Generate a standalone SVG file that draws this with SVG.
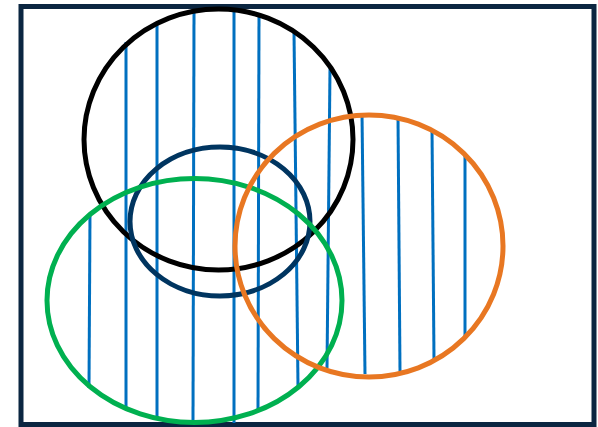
<svg xmlns="http://www.w3.org/2000/svg" width="598" height="427" viewBox="0 0 598 427">
<style>
.h{stroke:#0070c0;stroke-width:3;fill:none}
.c{fill:none;stroke-width:5}
</style>
<rect x="0" y="0" width="598" height="427" fill="#ffffff"/>
<g id="frame"><rect x="21" y="6.5" width="573" height="418" fill="none" stroke="#0b2641" stroke-width="5"/></g>
<g id="connectors">
<line class="h" x1="90" y1="213" x2="89" y2="388"/>
<line class="h" x1="126" y1="42" x2="126" y2="410"/>
<line class="h" x1="157" y1="24" x2="157" y2="420"/>
<line class="h" x1="194" y1="12" x2="193" y2="423"/>
<line class="h" x1="234" y1="10" x2="234" y2="423"/>
<line class="h" x1="259" y1="14" x2="258" y2="410"/>
<line class="h" x1="294" y1="32" x2="298" y2="386"/>
<line class="h" x1="330" y1="68" x2="327" y2="368"/>
<line class="h" x1="362" y1="113" x2="365" y2="374"/>
<line class="h" x1="398" y1="117" x2="400" y2="371"/>
<line class="h" x1="432" y1="129" x2="434" y2="359"/>
<line class="h" x1="465" y1="153" x2="465" y2="337"/>
</g>
<g id="black"><ellipse class="c" cx="218.5" cy="139.5" rx="134.5" ry="130.5" stroke="#000000"/></g>
<g id="navy"><ellipse class="c" cx="220" cy="221.5" rx="90" ry="74.5" stroke="#003560"/></g>
<g id="green"><ellipse class="c" cx="194.5" cy="300.5" rx="147.5" ry="122" stroke="#00b050"/></g>
<g id="orange"><ellipse class="c" cx="369" cy="246" rx="134" ry="131" stroke="#e87722"/></g>
</svg>
